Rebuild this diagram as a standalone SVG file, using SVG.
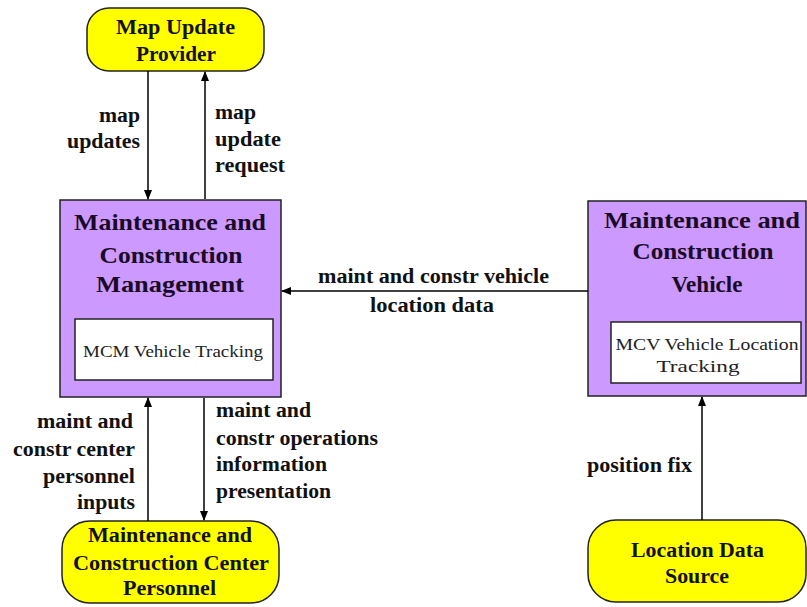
<svg xmlns="http://www.w3.org/2000/svg" width="807" height="607" viewBox="0 0 807 607">
<defs>
<marker id="ah" markerWidth="10" markerHeight="10" refX="9" refY="5" orient="auto" markerUnits="userSpaceOnUse">
<path d="M0,1 L10,5 L0,9 Z" fill="#000"/>
</marker>
<style>
.term{fill:#ffff00;stroke:#222;stroke-width:1.5}
.proc{fill:#cc99ff;stroke:#222;stroke-width:1.5}
.inner{fill:#fff;stroke:#222;stroke-width:1.5}
.t{font-family:"Liberation Serif",serif;font-weight:bold;fill:#111}
.tt{font-size:20px;text-anchor:middle}
.pt{font-size:23px;text-anchor:middle;fill:#1a0a26}
.it{font-family:"Liberation Serif",serif;font-size:17px;text-anchor:middle;fill:#222}
.lb{font-size:20px}
.c{stroke:#000;stroke-width:1.5;fill:none;marker-end:url(#ah)}
</style>
</defs>
<rect width="807" height="607" fill="#fff"/>
<g id="map-update-provider">
<rect class="term" x="87" y="8" width="177" height="63" rx="22"/>
<text class="t tt" x="175.5" y="34" textLength="119" lengthAdjust="spacingAndGlyphs">Map Update</text>
<text class="t tt" x="176" y="61" textLength="80" lengthAdjust="spacingAndGlyphs">Provider</text>
</g>
<g id="mcm">
<rect class="proc" x="60" y="200" width="221" height="197"/>
<text class="t pt" x="170" y="230" textLength="192" lengthAdjust="spacingAndGlyphs">Maintenance and</text>
<text class="t pt" x="171" y="263" textLength="143" lengthAdjust="spacingAndGlyphs">Construction</text>
<text class="t pt" x="170" y="292" textLength="148" lengthAdjust="spacingAndGlyphs">Management</text>
<rect class="inner" x="75" y="319" width="198" height="61"/>
<text class="it" x="173" y="357" textLength="180" lengthAdjust="spacingAndGlyphs">MCM Vehicle  Tracking</text>
</g>
<g id="mcv">
<rect class="proc" x="588" y="201" width="218" height="195"/>
<text class="t pt" x="702" y="228" textLength="196" lengthAdjust="spacingAndGlyphs">Maintenance and</text>
<text class="t pt" x="703" y="259" textLength="141" lengthAdjust="spacingAndGlyphs">Construction</text>
<text class="t pt" x="707" y="292" textLength="71" lengthAdjust="spacingAndGlyphs">Vehicle</text>
<rect class="inner" x="611" y="322" width="190" height="61"/>
<text class="it" x="707" y="350" textLength="183" lengthAdjust="spacingAndGlyphs">MCV Vehicle  Location</text>
<text class="it" x="698" y="372" textLength="83" lengthAdjust="spacingAndGlyphs">Tracking</text>
</g>
<g id="mcc-personnel">
<rect class="term" x="62" y="521" width="217" height="82" rx="28"/>
<text class="t tt" x="170" y="542" textLength="164" lengthAdjust="spacingAndGlyphs">Maintenance and</text>
<text class="t tt" x="171" y="570" textLength="196" lengthAdjust="spacingAndGlyphs">Construction Center</text>
<text class="t tt" x="169.5" y="595" textLength="93" lengthAdjust="spacingAndGlyphs">Personnel</text>
</g>
<g id="location-data-source">
<rect class="term" x="588" y="520" width="218" height="82" rx="28"/>
<text class="t tt" x="697.5" y="557" textLength="133" lengthAdjust="spacingAndGlyphs">Location Data</text>
<text class="t tt" x="697" y="583" textLength="64" lengthAdjust="spacingAndGlyphs">Source</text>
</g>
<g id="connectors">
<line class="c" x1="148" y1="71" x2="148" y2="199"/>
<line class="c" x1="205" y1="199" x2="205" y2="72"/>
<line class="c" x1="588" y1="291" x2="282" y2="291"/>
<line class="c" x1="148" y1="521" x2="148" y2="398"/>
<line class="c" x1="204" y1="398" x2="204" y2="520"/>
<line class="c" x1="702" y1="520" x2="702" y2="397"/>
</g>
<g id="labels">
<text class="t lb" x="99" y="122" textLength="41" lengthAdjust="spacingAndGlyphs">map</text>
<text class="t lb" x="67" y="148" textLength="73" lengthAdjust="spacingAndGlyphs">updates</text>
<text class="t lb" x="215" y="119" textLength="41" lengthAdjust="spacingAndGlyphs">map</text>
<text class="t lb" x="215" y="146" textLength="66" lengthAdjust="spacingAndGlyphs">update</text>
<text class="t lb" x="215" y="172" textLength="70" lengthAdjust="spacingAndGlyphs">request</text>
<text class="t lb" x="318" y="283" textLength="231" lengthAdjust="spacingAndGlyphs">maint and constr vehicle</text>
<text class="t lb" x="370" y="312" textLength="124" lengthAdjust="spacingAndGlyphs">location data</text>
<text class="t lb" x="37" y="428" textLength="96" lengthAdjust="spacingAndGlyphs">maint and</text>
<text class="t lb" x="13" y="456" textLength="122" lengthAdjust="spacingAndGlyphs">constr center</text>
<text class="t lb" x="43" y="483" textLength="92" lengthAdjust="spacingAndGlyphs">personnel</text>
<text class="t lb" x="77" y="509" textLength="58" lengthAdjust="spacingAndGlyphs">inputs</text>
<text class="t lb" x="216" y="417" textLength="95" lengthAdjust="spacingAndGlyphs">maint and</text>
<text class="t lb" x="216" y="445" textLength="162" lengthAdjust="spacingAndGlyphs">constr operations</text>
<text class="t lb" x="216" y="471" textLength="111" lengthAdjust="spacingAndGlyphs">information</text>
<text class="t lb" x="216" y="498" textLength="115" lengthAdjust="spacingAndGlyphs">presentation</text>
<text class="t lb" x="587" y="472" textLength="105" lengthAdjust="spacingAndGlyphs">position fix</text>
</g>
</svg>
